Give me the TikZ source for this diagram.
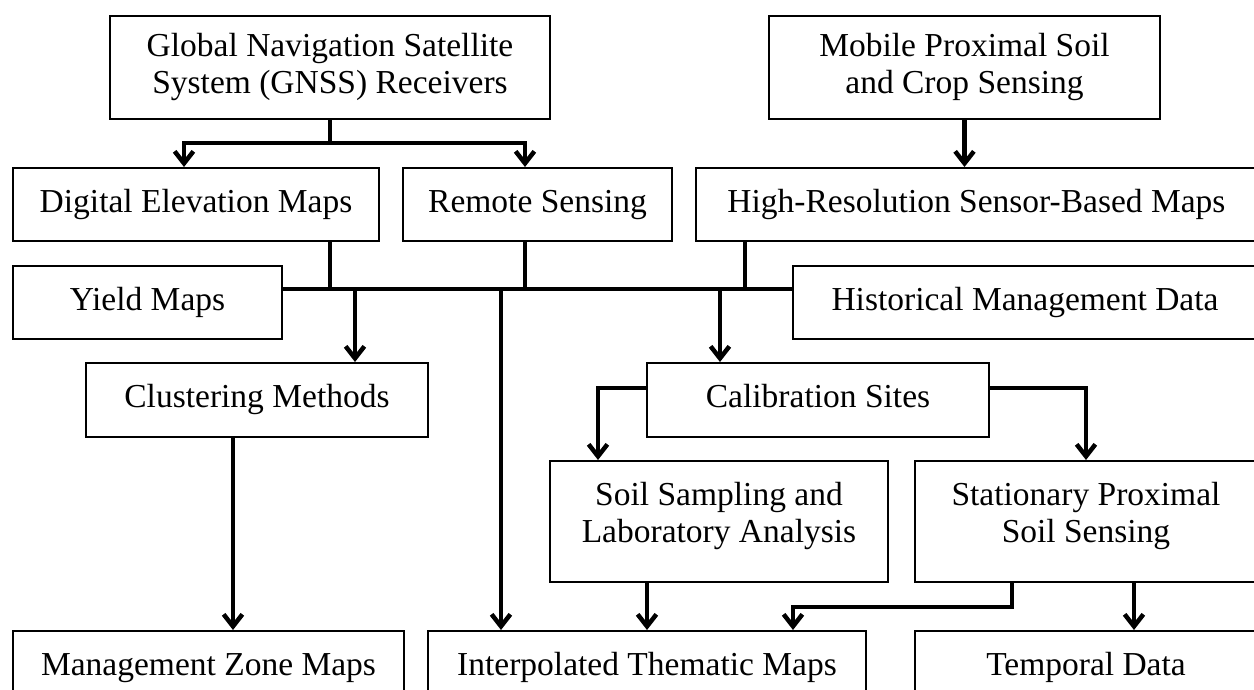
\documentclass[tikz,border=0pt]{standalone}
\usepackage{fontspec}
\setmainfont{Liberation Serif}
\usepackage{tikz}
\usetikzlibrary{arrows.meta,calc,positioning}

\tikzset{
  bloc/.style={draw, line width=0.8pt, align=center, inner sep=0pt, font=\fontsize{13.4}{14.8}\selectfont},
  ligne/.style={bloc, text height=9.4pt, text depth=3pt},
  lien/.style={line width=1.8pt},
  fleche/.style={lien, -{Straight Barb[length=4.8pt,width=7.5pt]}}
}

\begin{document}
\begin{tikzpicture}[x=0.4pt, y=-0.4pt]
\useasboundingbox (0,0) rectangle (1254,690);
\clip (0,0) rectangle (1254,690);

% sources
\node[bloc, minimum width=176pt, minimum height=41.2pt] (gnss) at (330,67.5) {Global Navigation Satellite\\System (GNSS) Receivers};
\node[bloc, minimum width=156.4pt, minimum height=41.2pt] (mobile) at (964.5,67.5) {Mobile Proximal Soil\\and Crop Sensing};

% cartes
\node[ligne, minimum width=146.4pt, minimum height=29.2pt] (dem) at (196,204.5) {Digital Elevation Maps};
\node[ligne, minimum width=107.6pt, minimum height=29.2pt] (remote) at (537.5,204.5) {Remote Sensing};
\node[ligne, minimum width=224.4pt, minimum height=29.2pt] (highres) at (976.5,204.5) {High-Resolution Sensor-Based Maps};
\node[ligne, minimum width=107.6pt, minimum height=29.2pt] (yield) at (147.5,302.5) {Yield Maps};
\node[ligne, minimum width=185.6pt, minimum height=29.2pt] (hist) at (1025,302.5) {Historical Management Data};

% methodes
\node[ligne, minimum width=136.8pt, minimum height=29.6pt] (cluster) at (257,400) {Clustering Methods};
\node[ligne, minimum width=136.8pt, minimum height=29.6pt] (calib) at (818,400) {Calibration Sites};
\node[bloc, text depth=7pt, minimum width=135.2pt, minimum height=48.4pt] (soil) at (719,521.5) {Soil Sampling and\\Laboratory Analysis};
\node[bloc, text depth=7pt, minimum width=136.8pt, minimum height=48.4pt] (stat) at (1086,521.5) {Stationary Proximal\\Soil Sensing};

% resultats
\node[ligne, minimum width=156.4pt, minimum height=29.2pt] (mgmt) at (208.5,667.5) {Management Zone Maps};
\node[ligne, minimum width=175.2pt, minimum height=29.2pt] (interp) at (647,667.5) {Interpolated Thematic Maps};
\node[ligne, minimum width=136.8pt, minimum height=29.2pt] (temporal) at (1086,667.5) {Temporal Data};

% GNSS
\coordinate (gL) at (184,143);
\coordinate (gR) at (525,143);
\draw[lien] (gnss.south) -- (gnss.south |- gL);
\draw[fleche] (gnss.south |- gL) -| (dem.north -| gL);
\draw[fleche] (gnss.south |- gR) -| (remote.north -| gR);
\draw[fleche] (mobile.south) -- (mobile.south |- highres.north);

% bus
\coordinate (bDem) at (330,289);
\coordinate (bRem) at (525,289);
\coordinate (bHig) at (745,289);
\coordinate (bClu) at (355,289);
\coordinate (bInt) at (501,289);
\coordinate (bCal) at (720,289);
\draw[lien] (yield.east |- bDem) -- (hist.west |- bDem);
\draw[lien] (dem.south -| bDem) -- (bDem);
\draw[lien] (remote.south -| bRem) -- (bRem);
\draw[lien] (highres.south -| bHig) -- (bHig);
\draw[fleche] (bClu) -- (cluster.north -| bClu);
\draw[fleche] (bInt) -- (interp.north -| bInt);
\draw[fleche] (bCal) -- (calib.north -| bCal);

% calibration
\coordinate (cL) at (598,388);
\coordinate (cR) at (1086,388);
\draw[fleche] (calib.west |- cL) -| (soil.north -| cL);
\draw[fleche] (calib.east |- cR) -| (stat.north -| cR);

% sorties
\coordinate (m1) at (233,0);
\coordinate (s1) at (1012,607);
\coordinate (s2) at (793,607);
\coordinate (s3) at (1134,0);
\draw[fleche] (cluster.south -| m1) -- (mgmt.north -| m1);
\draw[fleche] (soil.south -| interp.north) -- (interp.north);
\draw[fleche] (stat.south -| s1) |- (s2) -- (interp.north -| s2);
\draw[fleche] (stat.south -| s3) -- (temporal.north -| s3);

\end{tikzpicture}
\end{document}
